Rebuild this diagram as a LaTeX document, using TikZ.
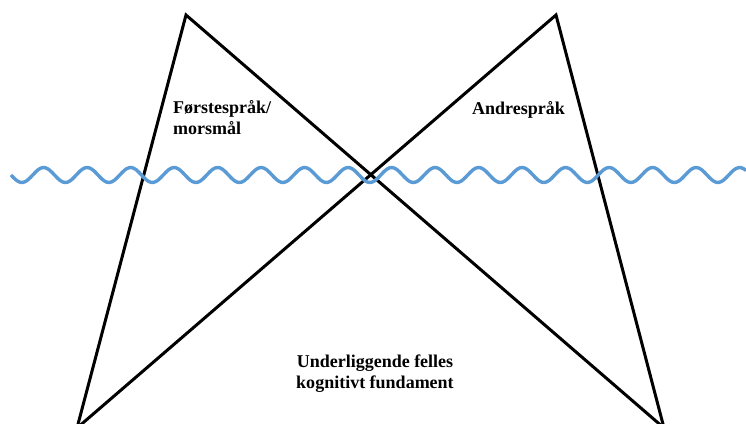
\documentclass[tikz,border=0pt]{standalone}
\usepackage{fontspec}
\setmainfont{Liberation Serif}
\usepackage{tikz}
\usetikzlibrary{positioning, calc}
\definecolor{waveblue}{HTML}{5B9BD5}

\begin{document}
\begin{tikzpicture}[
  x=1pt, y=-1pt,
  edge/.style={draw=black, line width=3pt, line join=miter},
  wave/.style={draw=waveblue, line width=3.4pt},
  label/.style={font=\fontsize{18}{21}\selectfont\bfseries, inner sep=0pt}
]
  \useasboundingbox (0,0) rectangle (746,423);

  % Corners
  \coordinate (topl) at (186,15);
  \coordinate (topr) at (556,15);
  \coordinate (botl) at (77,428);
  \coordinate (botr) at (664,428);

  % Triangles
  \draw[edge] (botl) -- (topl) -- (botr);
  \draw[edge] (botr) -- (topr) -- (botl);

  % Waterline
  \draw[wave] plot[domain=11:746, samples=300, smooth] (\x, {175+7.5*sin(8.2759*(\x-11))});

  % Labels
  \node[label, align=left, anchor=base west] (first) at (173,134) {Førstespråk/\\morsmål};
  \node[label, anchor=base west] (second) at (472,114) {Andrespråk};
  \node[label, align=center, anchor=base] (base) at (375,388) {Underliggende felles\\kognitivt fundament};
\end{tikzpicture}
\end{document}
